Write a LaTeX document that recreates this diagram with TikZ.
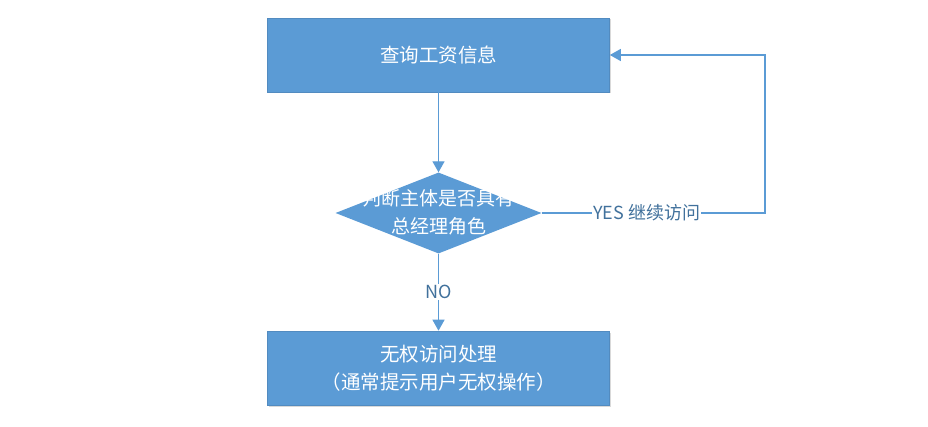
\documentclass[tikz,border=0pt]{standalone}
\usepackage{fontspec}
\setmainfont{Noto Sans CJK SC}
\usetikzlibrary{shapes.geometric,arrows.meta,shadows}
\definecolor{boxblue}{HTML}{5B9BD5}
\definecolor{linkblue}{HTML}{5B9BD5}
\definecolor{labelblue}{HTML}{41719C}
\begin{document}
\begin{tikzpicture}[x=1pt,y=-1pt,
  procbox/.style={draw=boxblue!90!black, line width=0.6pt, fill=boxblue, minimum width=342pt, minimum height=74pt,
    text=white, font=\fontsize{19.5}{28}\selectfont, align=center, inner sep=0pt,
    drop shadow={shadow xshift=1.5pt, shadow yshift=-1.5pt, fill=black, opacity=0.15}},
  decide/.style={diamond, fill=boxblue, minimum width=206pt, minimum height=81pt, inner sep=0pt, aspect=2.54},
  decidetext/.style={text=white, font=\fontsize{19}{28}\selectfont, align=center, inner sep=0pt},
  conn/.style={draw=linkblue, line width=1.3pt, -{Triangle[length=11pt,width=12pt]}},
  lbl/.style={fill=white, text=labelblue, font=\fontsize{18}{20}\selectfont, inner sep=1pt}
]
\useasboundingbox (0,0) rectangle (928,427);
\fill[white] (0,0) rectangle (928,427);
\node[procbox] (top) at (438.5,55) {查询工资信息};
\node[decide] (dia) at (438.5,213) {};
\node[decidetext] (diatext) at (438.5,212) {判断主体是否具有\\总经理角色};
\node[procbox] (bot) at (438.5,368) {无权访问处理\\（通常提示用户无权操作）};
\coordinate (corner) at (765,213);
\draw[conn] (top.south) -- (dia.north);
\draw[conn] (dia.south) -- node[lbl, pos=0.5] (nolbl) {NO} (bot.north);
\draw[conn] (dia.east) -- node[lbl, pos=0.47] (yeslbl) {YES 继续访问} (corner) |- (top.east);
\end{tikzpicture}
\end{document}
